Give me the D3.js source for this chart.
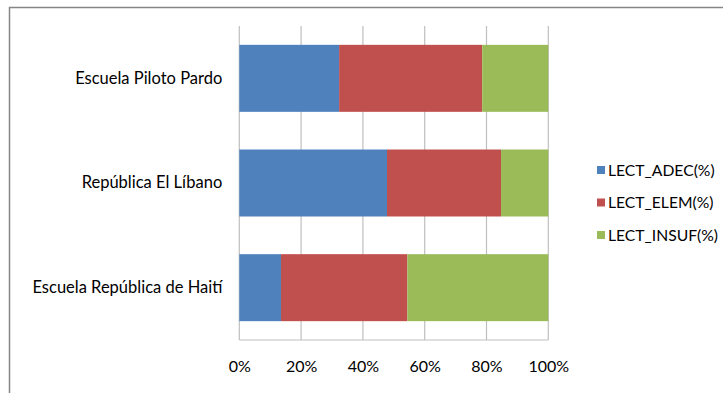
<!DOCTYPE html>
<html><head><meta charset="utf-8">
<script src="https://cdn.jsdelivr.net/npm/d3@7"></script>
<style>body{margin:0;background:#fff}svg{display:block}text{font-family:Lato,sans-serif;fill:#000}</style>
</head><body>
<svg id="c" width="723" height="393"></svg>
<script>
const categories = ["Escuela Piloto Pardo", "República El Líbano", "Escuela República de Haití"];
const seriesNames = ["LECT_ADEC(%)", "LECT_ELEM(%)", "LECT_INSUF(%)"];
const adec  = [32.3, 47.8, 13.5];
const elem  = [46.3, 36.9, 40.9];
const insuf = [21.4, 15.3, 45.6];
const tickValues = [0, 0.2, 0.4, 0.6, 0.8, 1.0];
const colors = ["#4F81BD", "#C0504D", "#9BBB59"];

(function () {
const FONT = "Lato,sans-serif";
const svg = d3.select("#c");
svg.append("rect").attr("x", 9.5).attr("y", 7.5).attr("width", 740).attr("height", 420)
  .attr("fill", "#fff").attr("stroke", "#868686").attr("stroke-width", 1.5);

const pLeft = 239.3, pRight = 548.3, pTop = 26, pBottom = 340;
const x = d3.scaleLinear().domain([0, 1]).range([pLeft, pRight]);
const y = d3.scaleBand().domain(categories).range([pTop, pBottom]).paddingInner(0.36).paddingOuter(0.18);

svg.append("g").selectAll("line").data(tickValues).join("line")
  .attr("x1", d => x(d)).attr("x2", d => x(d)).attr("y1", pTop).attr("y2", pBottom)
  .attr("stroke", "#BFBFBF").attr("stroke-width", 1.2);
svg.append("line").attr("x1", pLeft).attr("x2", pRight).attr("y1", pBottom).attr("y2", pBottom)
  .attr("stroke", "#BFBFBF").attr("stroke-width", 1.2);

const rows = categories.map((c, i) => {
  const vals = [adec[i], elem[i], insuf[i]];
  const tot = d3.sum(vals);
  return Object.fromEntries([["cat", c], ...seriesNames.map((s, j) => [s, vals[j] / tot])]);
});
const stacked = d3.stack().keys(seriesNames)(rows);

svg.append("g").selectAll("g").data(stacked).join("g")
  .attr("fill", (d, i) => colors[i])
  .selectAll("rect").data(d => d).join("rect")
  .attr("x", d => x(d[0])).attr("width", d => x(d[1]) - x(d[0]))
  .attr("y", d => y(d.data.cat)).attr("height", y.bandwidth());

const ax = svg.append("g").attr("transform", `translate(0,${pBottom})`)
  .call(d3.axisBottom(x).tickValues(tickValues).tickFormat(d3.format(".0%")).tickSize(0).tickPadding(21));
ax.select(".domain").remove();
ax.selectAll("text").attr("font-size", 16).attr("font-family", FONT).attr("fill", "#000");

const ay = svg.append("g").attr("transform", `translate(${pLeft},0)`)
  .call(d3.axisLeft(y).tickSize(0).tickPadding(17));
ay.select(".domain").remove();
ay.selectAll("text").attr("font-size", 16.5).attr("font-family", FONT).attr("fill", "#000");

const lg = svg.append("g").selectAll("g").data(seriesNames).join("g")
  .attr("transform", (d, i) => `translate(597,${170 + i * 32.5})`);
lg.append("rect").attr("x", 0).attr("y", -4).attr("width", 8).attr("height", 8).attr("fill", (d, i) => colors[i]);
lg.append("text").attr("x", 11).attr("y", 0).attr("dy", "0.35em").attr("font-size", 15.7).attr("font-family", FONT).text(d => d);
})();
</script>
</body></html>
